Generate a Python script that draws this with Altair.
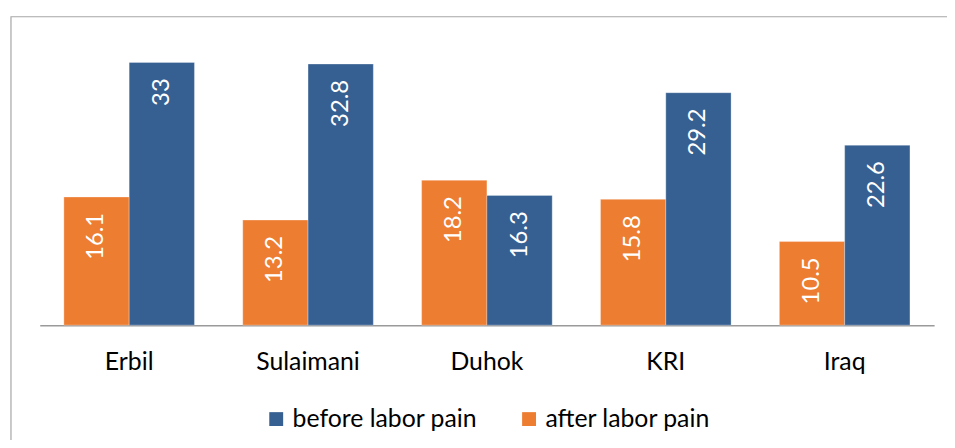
import altair as alt
import pandas as pd

regions = ["Erbil", "Sulaimani", "Duhok", "KRI", "Iraq"]
after_vals = [16.1, 13.2, 18.2, 15.8, 10.5]
before_vals = [33, 32.8, 16.3, 29.2, 22.6]
series_names = ["before labor pain", "after labor pain"]
series_colors = ["#376092", "#ED7D31"]

rows = []
for r, a, b in zip(regions, after_vals, before_vals):
    rows.append({"region": r, "series": "after labor pain", "value": a})
    rows.append({"region": r, "series": "before labor pain", "value": b})
df = pd.DataFrame(rows)

FONT = "Lato"

x_enc = alt.X("region:N", sort=regions, title=None,
              scale=alt.Scale(paddingInner=0.27, paddingOuter=0.135),
              axis=alt.Axis(labelAngle=0, labelFontSize=25, labelFont=FONT,
                            labelColor="#000000", ticks=False, labelPadding=25,
                            domainColor="#9a9a9a", domainWidth=1.5))
xo_enc = alt.XOffset("series:N", sort=["after labor pain", "before labor pain"],
                     scale=alt.Scale(paddingInner=0, paddingOuter=0))
y_enc = alt.Y("value:Q", scale=alt.Scale(domain=[0, 35], nice=False), axis=None)

bars = alt.Chart(df).mark_bar(stroke="#ffffff", strokeWidth=0.5, strokeOpacity=0.6).encode(
    x=x_enc,
    xOffset=xo_enc,
    y=y_enc,
    color=alt.Color("series:N",
                    scale=alt.Scale(domain=series_names, range=series_colors),
                    legend=alt.Legend(title=None, orient="none", direction="horizontal",
                                      legendX=226, legendY=363, padding=0,
                                      symbolType="square", symbolSize=196,
                                      symbolStrokeWidth=0, labelFontSize=25,
                                      labelFont=FONT, labelColor="#000000",
                                      labelLimit=400,
                                      labelOffset=4, columnPadding=39)),
)

labels = alt.Chart(df).mark_text(angle=270, align="right", baseline="middle",
                                 dx=-16, color="#ffffff", fontSize=24, font=FONT).encode(
    x=alt.X("region:N", sort=regions),
    xOffset=xo_enc,
    y=y_enc,
    text=alt.Text("value:Q"),
)

frame = alt.Chart(pd.DataFrame({"f": [0]})).mark_rect(
    fillOpacity=0, stroke="#a6a6a6", strokeWidth=1.2, clip=False
).encode(x=alt.value(-29), x2=alt.value(1000), y=alt.value(-30), y2=alt.value(700))

chart = alt.layer(frame, bars, labels).properties(
    width=902, height=281,
    background="#ffffff",
    autosize=alt.AutoSizeParams(type="none"),
    padding={"left": 32, "top": 37, "right": 13, "bottom": 114},
).configure_view(strokeWidth=0, stroke="transparent")

chart.save("out.html", embed_options={"renderer": "svg", "actions": False})
